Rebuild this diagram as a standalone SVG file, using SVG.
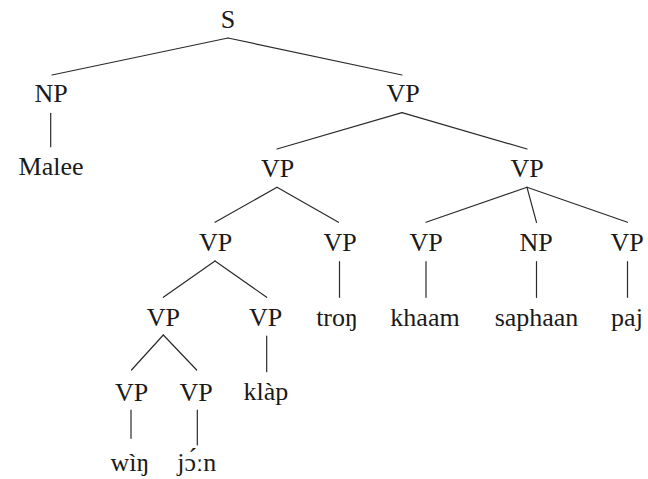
<svg xmlns="http://www.w3.org/2000/svg" width="648" height="479" viewBox="0 0 648 479">
<style>
  text { font-family: 'Liberation Serif', 'DejaVu Serif', 'Noto Serif', serif; font-size: 26px; fill: #1a1a1a; text-anchor: middle; }
  .edge { stroke: #2a2a2a; stroke-width: 1.2; fill: none; stroke-linecap: round; }
</style>
<rect width="648" height="479" fill="#ffffff"/>
<g id="connectors">
  <line class="edge" x1="228" y1="38" x2="52" y2="75"/>
  <line class="edge" x1="228" y1="38" x2="402" y2="75"/>
  <line class="edge" x1="50.7" y1="113.3" x2="50.7" y2="146.7"/>
  <line class="edge" x1="402" y1="112.7" x2="277" y2="149"/>
  <line class="edge" x1="402" y1="112.7" x2="527" y2="149"/>
  <line class="edge" x1="277" y1="187.3" x2="215" y2="222.3"/>
  <line class="edge" x1="277" y1="187.3" x2="338.5" y2="222.3"/>
  <line class="edge" x1="527" y1="187.3" x2="426" y2="222.3"/>
  <line class="edge" x1="527" y1="187.3" x2="536.5" y2="222.3"/>
  <line class="edge" x1="527" y1="187.3" x2="627.5" y2="222.3"/>
  <line class="edge" x1="215" y1="261" x2="163.3" y2="297.3"/>
  <line class="edge" x1="215" y1="261" x2="266.7" y2="297.3"/>
  <line class="edge" x1="339.5" y1="261.7" x2="339.5" y2="297.3"/>
  <line class="edge" x1="426" y1="261.7" x2="426" y2="297.3"/>
  <line class="edge" x1="536.5" y1="261.7" x2="536.5" y2="297.3"/>
  <line class="edge" x1="627.5" y1="261.7" x2="627.5" y2="297.3"/>
  <line class="edge" x1="163.3" y1="335" x2="131.5" y2="370"/>
  <line class="edge" x1="163.3" y1="335" x2="196.7" y2="370"/>
  <line class="edge" x1="266.7" y1="336" x2="266.7" y2="371.7"/>
  <line class="edge" x1="131" y1="410" x2="131" y2="438.3"/>
  <line class="edge" x1="197.3" y1="410" x2="197.3" y2="445"/>
</g>
<g id="n-S"><text x="228" y="27.5">S</text></g>
<g id="n-NP1"><text x="51" y="102">NP</text></g>
<g id="n-Malee"><text x="51" y="175">Malee</text></g>
<g id="n-VP1"><text x="403" y="102">VP</text></g>
<g id="n-VP2a"><text x="277.5" y="177">VP</text></g>
<g id="n-VP2b"><text x="527" y="177">VP</text></g>
<g id="n-VP3a"><text x="215.5" y="251">VP</text></g>
<g id="n-VP3b"><text x="340" y="251">VP</text></g>
<g id="n-VP3c"><text x="426" y="251">VP</text></g>
<g id="n-NP3d"><text x="536" y="251">NP</text></g>
<g id="n-VP3e"><text x="627" y="251">VP</text></g>
<g id="n-VP4a"><text x="163.3" y="326">VP</text></g>
<g id="n-VP4b"><text x="265.7" y="326">VP</text></g>
<g id="n-tron"><text x="337" y="326">troŋ</text></g>
<g id="n-khaam"><text x="425" y="326">khaam</text></g>
<g id="n-saphaan"><text x="536.5" y="326">saphaan</text></g>
<g id="n-paj"><text x="627" y="326">paj</text></g>
<g id="n-VP5a"><text x="131.7" y="401">VP</text></g>
<g id="n-VP5b"><text x="196" y="401">VP</text></g>
<g id="n-klap"><text x="266" y="400">klàp</text></g>
<g id="n-win"><text x="130" y="471">wìŋ</text></g>
<g id="n-joon"><text x="196.7" y="471">jɔ́ːn</text></g>
</svg>
